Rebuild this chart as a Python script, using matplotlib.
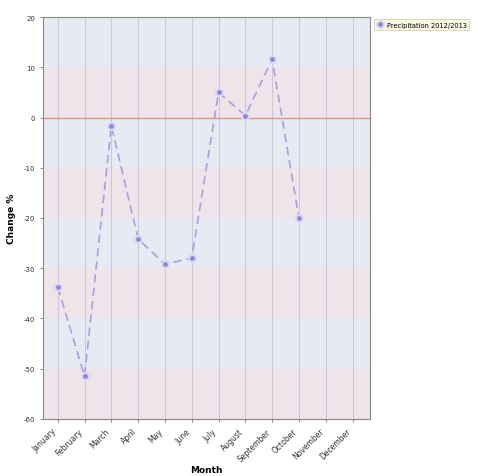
import matplotlib
matplotlib.use("Agg")
import matplotlib.pyplot as plt
import numpy as np

# data
months = ["January", "February", "March", "April", "May", "June",
          "July", "August", "September", "October", "November", "December"]
change = [-33.8, -51.5, -1.6, -24.2, -29.2, -28.0, 5.0, 0.4, 11.6, -20.0]
series_name = "Precipitation 2012/2013"
y_ticks = [-60, -50, -40, -30, -20, -10, 0, 10, 20]

fig = plt.figure(figsize=(4.78, 4.77), dpi=100)
ax = fig.add_axes([0.09, 0.12, 0.684, 0.842])

# alternating horizontal bands
for i, lo in enumerate(range(-60, 20, 10)):
    col = "#efe4ea" if i % 2 == 0 else "#e7eaf3"
    ax.axhspan(lo, lo + 10, color=col, zorder=0, lw=0)

x = np.arange(len(months))
for xi in x:
    ax.axvline(xi, color="#c9cad6", lw=0.8, zorder=1)
ax.axhline(0, color="#e8907e", lw=1.0, zorder=2)

ax.plot(x[:len(change)], change, color="#a89fe0", lw=1.2, ls=(0, (5, 3)),
        marker="o", ms=5, mfc="#8f87d6", mec="#dcd9f6", mew=1.5,
        zorder=3, label=series_name)

ax.set_xlim(-0.55, 11.65)
ax.set_ylim(-60, 20)
ax.set_yticks(y_ticks)
ax.set_yticklabels([str(v) for v in y_ticks], fontsize=5, color="#333333")
ax.set_xticks(x)
ax.set_xticklabels(months, rotation=45, ha="right", fontsize=5.5, color="#333333")
ax.tick_params(length=2, width=0.6, color="#777777")
for s in ax.spines.values():
    s.set_color("#888888")
    s.set_linewidth(0.8)

ax.set_xlabel("Month", fontsize=6.5, fontweight="bold", labelpad=2)
ax.set_ylabel("Change %", fontsize=6.5, fontweight="bold", labelpad=6)

leg = ax.legend(loc="upper left", bbox_to_anchor=(1.005, 1.0), fontsize=4.8,
                frameon=True, fancybox=False, borderpad=0.4, handlelength=1.2,
                handletextpad=0.4, borderaxespad=0.3)
leg.get_frame().set_facecolor("#f7f7dc")
leg.get_frame().set_edgecolor("#c8c8a0")
leg.get_frame().set_linewidth(0.6)

fig.savefig("out.png", dpi=100)
